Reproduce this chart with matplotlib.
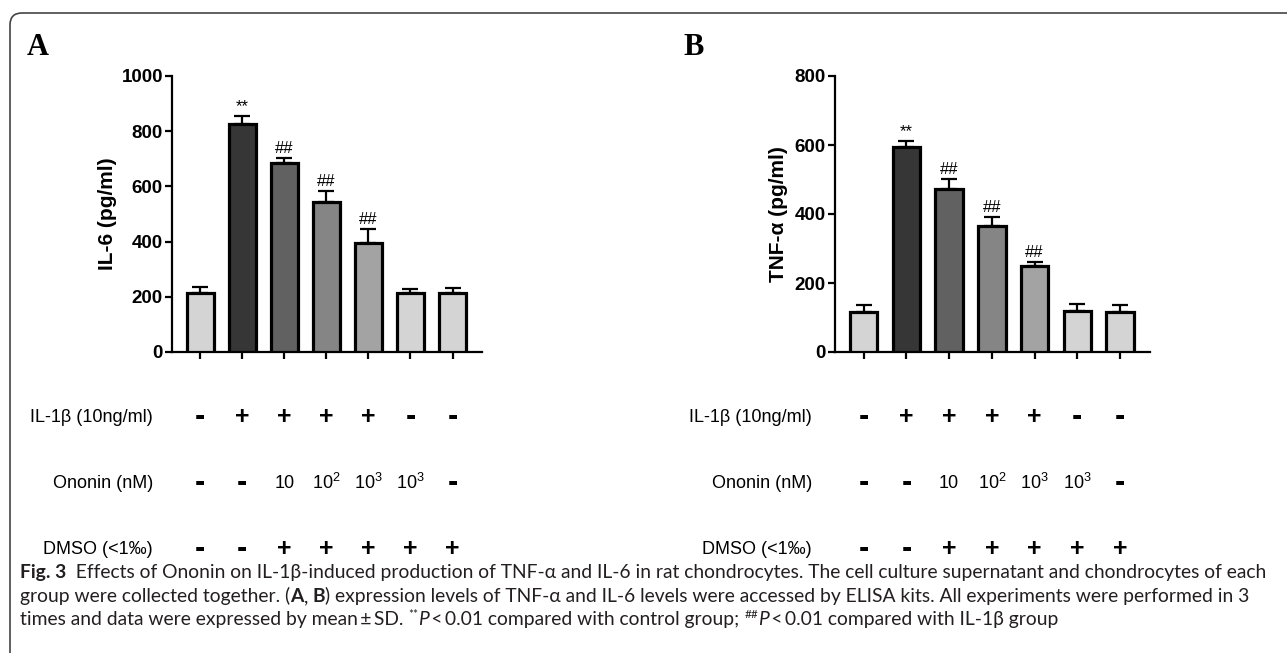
import matplotlib
matplotlib.use("Agg")
import matplotlib.pyplot as plt
import matplotlib.transforms as mtransforms
from matplotlib.patches import FancyBboxPatch
import numpy as np

# data
groups = np.arange(7)
il6_mean = [214, 826, 685, 543, 395, 214, 213]
il6_err = [21, 29, 18, 40, 51, 14, 19]
tnf_mean = [116, 594, 473, 365, 249, 119, 116]
tnf_err = [20, 18, 28, 26, 12, 20, 20]
signif = ["", "**", "##", "##", "##", "", ""]
bar_colors = ["#d4d4d4", "#363636", "#616161", "#858585", "#a3a3a3", "#d4d4d4", "#d4d4d4"]

row_names = ["IL-1\u03b2 (10ng/ml)", "Ononin (nM)", "DMSO (<1\u2030)"]
row_il1b = ["-", "+", "+", "+", "+", "-", "-"]
row_ononin = ["-", "-", "10", "$10^2$", "$10^3$", "$10^3$", "-"]
row_dmso = ["-", "-", "+", "+", "+", "+", "+"]

W, H = 1287, 653
SANS = ["Liberation Sans", "DejaVu Sans"]
plt.rcParams["mathtext.fontset"] = "custom"
plt.rcParams["mathtext.rm"] = "Liberation Sans"
plt.rcParams["mathtext.it"] = "Liberation Sans:italic"
plt.rcParams["mathtext.bf"] = "Liberation Sans:bold"

fig = plt.figure(figsize=(W / 100, H / 100), dpi=100)


def px(x, y):
    return x / W, 1 - y / H


def panel(x0, x1, means, errs, ymax, ylabel, lab_x):
    left, bot = px(x0, 352)
    right, top = px(x1, 76)
    ax = fig.add_axes([left, bot, right - left, top - bot])
    ax.bar(groups, means, width=0.64, color=bar_colors, edgecolor="black",
           linewidth=2.3, zorder=3)
    ax.errorbar(groups, means, yerr=[np.zeros(7), errs], fmt="none",
                ecolor="black", elinewidth=1.6, capsize=6, capthick=1.6, zorder=2)
    for g, m, e, s in zip(groups, means, errs, signif):
        if s:
            ax.annotate(s, (g, m + e), xytext=(0, 1.5), textcoords="offset points",
                        ha="center", va="bottom", fontsize=12, family=SANS)
    ax.set_xlim(-0.67, 6.7)
    ax.set_ylim(0, ymax)
    ax.set_yticks(np.arange(0, ymax + 1, 200))
    ax.set_xticks(groups)
    ax.set_xticklabels([])
    for s in ["top", "right"]:
        ax.spines[s].set_visible(False)
    for s in ["left", "bottom"]:
        ax.spines[s].set_linewidth(1.6)
    ax.tick_params(axis="y", length=5, width=1.6, pad=1.5)
    ax.tick_params(axis="x", length=5, width=1.6)
    for t in ax.get_yticklabels():
        t.set_family(SANS)
        t.set_fontweight("bold")
        t.set_fontsize(13.5)
    ax.set_ylabel(ylabel, fontsize=15, fontweight="bold", family=SANS)
    ax.yaxis.set_label_coords(lab_x, 0.5)
    ax.patch.set_alpha(0)
    return ax


axA = panel(172, 482, il6_mean, il6_err, 1000, "IL-6 (pg/ml)", -0.177)
axB = panel(835, 1150, tnf_mean, tnf_err, 800, "TNF-\u03b1 (pg/ml)", -0.148)

fig.text(*px(27, 55), "A", fontsize=22, fontweight="bold", family="Liberation Serif")
fig.text(*px(683, 55), "B", fontsize=22, fontweight="bold", family="Liberation Serif")

rows = [row_il1b, row_ononin, row_dmso]
row_y = [417, 483, 549]
for ax, lab_right in [(axA, 153), (axB, 812)]:
    tr = mtransforms.blended_transform_factory(ax.transData, fig.transFigure)
    for name, vals, yy in zip(row_names, rows, row_y):
        fig.text(lab_right / W, 1 - yy / H, name, ha="right", va="center",
                 fontsize=13, family=SANS)
        for g, v in zip(groups, vals):
            if v == "+":
                ax.text(g, 1 - yy / H, v, transform=tr, ha="center", va="center",
                        fontsize=18, fontweight="bold", family=SANS)
            elif v == "-":
                ax.text(g, 1 - yy / H, "-", transform=tr, ha="center", va="center",
                        fontsize=22, fontweight="bold", family=SANS)
            else:
                ax.text(g, 1 - yy / H, v, transform=tr, ha="center", va="center",
                        fontsize=13, family=SANS)

# rounded frame
frame = FancyBboxPatch((10, -30), 1400, H + 30 - 13, boxstyle="round,pad=0,rounding_size=12",
                       transform=None, fill=False, edgecolor="#444444", linewidth=1.2)
fig.patches.append(frame)

# caption, drawn as runs of differently styled text
CAP = ["Lato", "DejaVu Sans"]
cap_size = 13.85
renderer = fig.canvas.get_renderer()


def runs(x, y, parts):
    for s, style in parts:
        kw = dict(fontsize=cap_size, family=CAP, color="#231f20", va="baseline")
        dy = 0
        if "b" in style:
            kw["fontweight"] = "bold"
        if "i" in style:
            kw["style"] = "italic"
        if "s" in style:
            kw["fontsize"] = cap_size * 0.62
            dy = -7
        t = fig.text(x / W, 1 - (y + dy) / H, s, **kw)
        bb = t.get_window_extent(renderer)
        x += bb.width


runs(20, 578, [("Fig. 3", "b"), ("  Effects of Ononin on IL-1\u03b2-induced production of TNF-\u03b1 and IL-6 in rat chondrocytes. The cell culture supernatant and chondrocytes of each", "")])
runs(20, 602, [("group were collected together. (", ""), ("A", "b"), (", ", ""), ("B", "b"),
               (") expression levels of TNF-\u03b1 and IL-6 levels were accessed by ELISA kits. All experiments were performed in 3", "")])
runs(20, 625, [("times and data were expressed by mean\u2009\u00b1\u2009SD. ", ""), ("**", "s"), ("P", "i"),
               ("\u2009<\u20090.01 compared with control group; ", ""), ("##", "s"), ("P", "i"),
               ("\u2009<\u20090.01 compared with IL-1\u03b2 group", "")])

fig.savefig("out.png", dpi=100)
